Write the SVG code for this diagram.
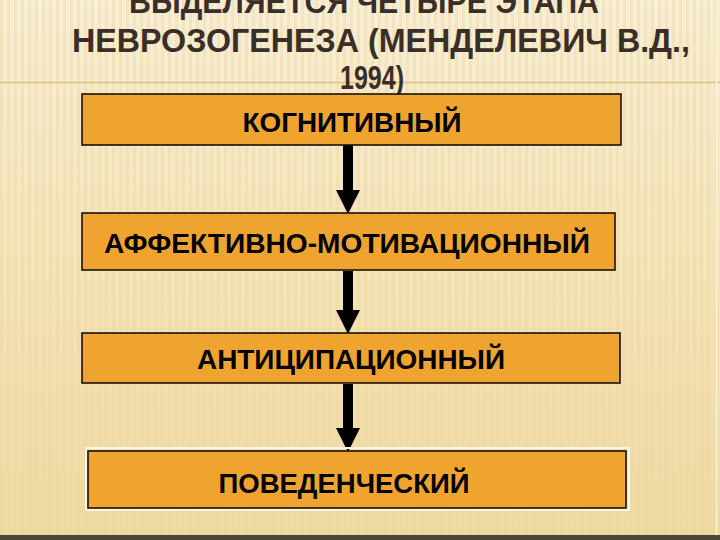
<svg xmlns="http://www.w3.org/2000/svg" width="720" height="540" viewBox="0 0 720 540">
<defs>
<linearGradient id="bg" x1="0" y1="0" x2="0" y2="1">
<stop offset="0" stop-color="#f8eed4"/>
<stop offset="0.5" stop-color="#f5e4b8"/>
<stop offset="1" stop-color="#efd9a2"/>
</linearGradient>
<pattern id="stripes" width="7" height="540" patternUnits="userSpaceOnUse">
<rect x="0" y="0" width="3" height="540" fill="#e8d39c" opacity="0.35"/>
</pattern>
<marker id="ah" markerWidth="24" markerHeight="24" refX="0" refY="12" orient="auto" markerUnits="userSpaceOnUse">
<path d="M0,0 L24,12 L0,24 Z" fill="#000"/>
</marker>
</defs>
<style>
.title{font-family:"Liberation Sans",Arial,sans-serif;font-weight:bold;font-size:33px;fill:#3a2e28;text-anchor:middle}
.box{fill:#f0a430;stroke:#1a0f0a;stroke-width:1.6}
.halo{fill:none;stroke:#fff6e0;stroke-width:2}
.lbl{font-family:"Liberation Sans",Arial,sans-serif;font-weight:bold;font-size:28px;fill:#000;text-anchor:middle}
.conn{stroke:#000;stroke-width:10;fill:none}
</style>
<rect width="720" height="540" fill="url(#bg)"/>
<rect width="720" height="540" fill="url(#stripes)"/>
<line x1="0" y1="82.5" x2="720" y2="82.5" stroke="#d9c28a" stroke-width="1.5"/>
<line x1="716.5" y1="0" x2="716.5" y2="536" stroke="#fff4da" stroke-width="1.5"/>
<rect x="0" y="535" width="720" height="5" fill="#4a4636"/>
<g id="title">
<text class="title" x="364" y="13" textLength="470" lengthAdjust="spacingAndGlyphs">ВЫДЕЛЯЕТСЯ ЧЕТЫРЕ ЭТАПА</text>
<text class="title" x="381" y="52" textLength="618" lengthAdjust="spacingAndGlyphs">НЕВРОЗОГЕНЕЗА (МЕНДЕЛЕВИЧ В.Д.,</text>
<text class="title" x="372" y="89" textLength="64" lengthAdjust="spacingAndGlyphs">1994)</text>
</g>
<g id="connectors">
<path class="conn" d="M348,145 V190" marker-end="url(#ah)"/>
<path class="conn" d="M348,271 V310" marker-end="url(#ah)"/>
<path class="conn" d="M348,384 V428" marker-end="url(#ah)"/>
</g>
<g id="n1">
<rect class="box" x="82" y="94" width="539" height="51"/>
<text class="lbl" x="352" y="132" textLength="219" lengthAdjust="spacingAndGlyphs">КОГНИТИВНЫЙ</text>
</g>
<g id="n2">
<rect class="box" x="82" y="213" width="533" height="57"/>
<text class="lbl" x="347" y="253" textLength="486" lengthAdjust="spacingAndGlyphs">АФФЕКТИВНО-МОТИВАЦИОННЫЙ</text>
</g>
<g id="n3">
<rect class="box" x="82" y="333" width="538" height="50"/>
<text class="lbl" x="351" y="369" textLength="308" lengthAdjust="spacingAndGlyphs">АНТИЦИПАЦИОННЫЙ</text>
</g>
<g id="n4">
<rect class="halo" x="86" y="448" width="543" height="62"/>
<rect class="box" x="88" y="451" width="538" height="57"/>
<text class="lbl" x="344" y="493" textLength="251" lengthAdjust="spacingAndGlyphs">ПОВЕДЕНЧЕСКИЙ</text>
</g>
</svg>
